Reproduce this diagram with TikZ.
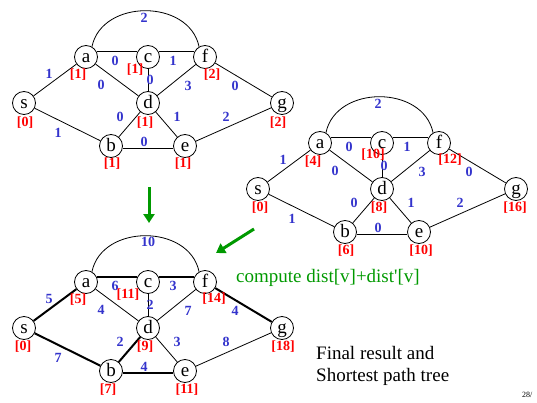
\documentclass[tikz,border=0pt]{standalone}
\usepackage{fontspec}
\setmainfont{Liberation Serif}
\usetikzlibrary{arrows.meta}
\definecolor{distred}{RGB}{255,0,0}
\definecolor{weightblue}{RGB}{51,51,204}
\definecolor{notegreen}{RGB}{0,153,0}
\tikzset{
vtx/.style={circle, draw, line width=0.8pt, minimum size=23pt, inner sep=0pt,
  text height=13pt, text depth=2pt, font=\fontsize{19}{19}\selectfont},
dlab/.style={text=distred, inner sep=0pt, font=\fontsize{14}{14}\selectfont\bfseries},
wlab/.style={text=weightblue, inner sep=0pt, font=\fontsize{14}{14}\selectfont\bfseries},
edge/.style={line width=0.8pt},
tree/.style={line width=2pt},
bigarrow/.style={notegreen, line width=3pt, -{Triangle[length=9pt,width=11pt]}},
}

\begin{document}
\begin{tikzpicture}[x=1pt, y=-1pt]
\useasboundingbox (0,0) rectangle (537,403);

% distances from s
\begin{scope}
\foreach \n/\x/\y in {s/24/103, a/86/57, c/148/57, f/205/57, d/148/103, g/282/103, b/111/146, e/185/146}
  \node[vtx] (S\n) at (\x,\y) {\n};
\foreach \u/\v in {s/a, c/d, a/d, d/f, f/g, d/b, d/e, e/g, s/b}
  \draw[edge] (S\u) -- (S\v);
\draw[edge] (Sa.26) -- (Sc.154);
\draw[edge] (Sc.26) -- (Sf.154);
\draw[edge] (Sb.-10) -- (Se.190);
\draw[edge] (Sa.60) .. controls +(10,-48) and +(-10,-48) .. (Sf.120);
\foreach \u/\v/\w/\x/\y in {s/a/1/49/74, a/c/0/115/61, c/f/1/173/61, c/d/0/150/80,
  a/d/0/101/85, d/f/3/188/86, f/g/0/235/86, d/b/0/120/117, d/e/1/177/117,
  e/g/2/226/117, s/b/1/58/133, b/e/0/144/142, a/f/2/144/18}
  \node[wlab] (S\u\v) at (\x,\y) {\w};
\foreach \n/\x/\y/\t in {s/25/123/0, a/78/75/1, c/135/70/1, f/212/75/2,
  d/145/123/1, g/278/123/2, b/112/164/1, e/183/164/1}
  \node[dlab] (S\n l) at (\x,\y) {[\t]};
\end{scope}

% distances to g
\begin{scope}[shift={(234,86)}]
\foreach \n/\x/\y in {s/24/103, a/86/57, c/148/57, f/205/57, d/148/103, g/282/103, b/111/146, e/185/146}
  \node[vtx] (G\n) at (\x,\y) {\n};
\foreach \u/\v in {s/a, c/d, a/d, d/f, f/g, d/b, d/e, e/g, s/b}
  \draw[edge] (G\u) -- (G\v);
\draw[edge] (Ga.26) -- (Gc.154);
\draw[edge] (Gc.26) -- (Gf.154);
\draw[edge] (Gb.-10) -- (Ge.190);
\draw[edge] (Ga.60) .. controls +(10,-48) and +(-10,-48) .. (Gf.120);
\foreach \u/\v/\w/\x/\y in {s/a/1/49/74, a/c/0/115/61, c/f/1/173/61, c/d/0/150/80,
  a/d/0/101/85, d/f/3/188/86, f/g/0/235/86, d/b/0/120/117, d/e/1/177/117,
  e/g/2/226/117, s/b/1/58/133, b/e/0/144/142, a/f/2/144/18}
  \node[wlab] (G\u\v) at (\x,\y) {\w};
\foreach \n/\x/\y/\t in {s/26/122/0, a/79/76/4, c/139/69/10, f/216/74/12,
  d/145/122/8, g/281/122/16, b/112/165/6, e/187/165/10}
  \node[dlab] (G\n l) at (\x,\y) {[\t]};
\end{scope}

% final result
\begin{scope}[shift={(0,225)}]
\foreach \n/\x/\y in {s/24/103, a/86/57, c/148/57, f/205/57, d/148/103, g/282/103, b/111/146, e/185/146}
  \node[vtx] (R\n) at (\x,\y) {\n};
\foreach \u/\v/\st in {s/a/tree, c/d/edge, a/d/edge, d/f/edge, f/g/tree,
  d/b/tree, d/e/edge, e/g/edge, s/b/tree}
  \draw[\st] (R\u) -- (R\v);
\draw[tree] (Ra.26) -- (Rc.154);
\draw[tree] (Rc.26) -- (Rf.154);
\draw[tree] (Rb.-10) -- (Re.190);
\draw[edge] (Ra.60) .. controls +(10,-48) and +(-10,-48) .. (Rf.120);
\foreach \u/\v/\w/\x/\y in {s/a/5/49/74, a/c/6/115/61, c/f/3/173/61, c/d/2/150/80,
  a/d/4/101/85, d/f/7/188/86, f/g/4/235/86, d/b/2/120/117, d/e/3/177/117,
  e/g/8/226/117, s/b/7/58/133, b/e/4/144/142, a/f/10/148/17}
  \node[wlab] (R\u\v) at (\x,\y) {\w};
\foreach \n/\x/\y/\t in {s/23/122/0, a/78/75/5, c/128/70/11, f/214/74/14,
  d/145/122/9, g/283/122/18, b/108/165/7, e/187/165/11}
  \node[dlab] (R\n l) at (\x,\y) {[\t]};
\end{scope}

% arrows and notes
\coordinate (down1) at (149,187);
\coordinate (down2) at (149,223);
\coordinate (diag1) at (254,229);
\coordinate (diag2) at (216,253);
\draw[bigarrow] (down1) -- (down2);
\draw[bigarrow] (diag1) -- (diag2);
\node[anchor=west, inner sep=0pt, text=notegreen, font=\fontsize{19}{19}\selectfont]
  (compute) at (236,278) {compute dist[v]+dist\textquotesingle[v]};
\node[anchor=west, align=left, inner sep=0pt, font=\fontsize{19}{22}\selectfont]
  (final) at (316,366) {Final result and\\Shortest path tree};
\node[anchor=west, inner sep=0pt, font=\fontsize{8}{8}\selectfont] (page) at (522,395) {28/};

\end{tikzpicture}
\end{document}
